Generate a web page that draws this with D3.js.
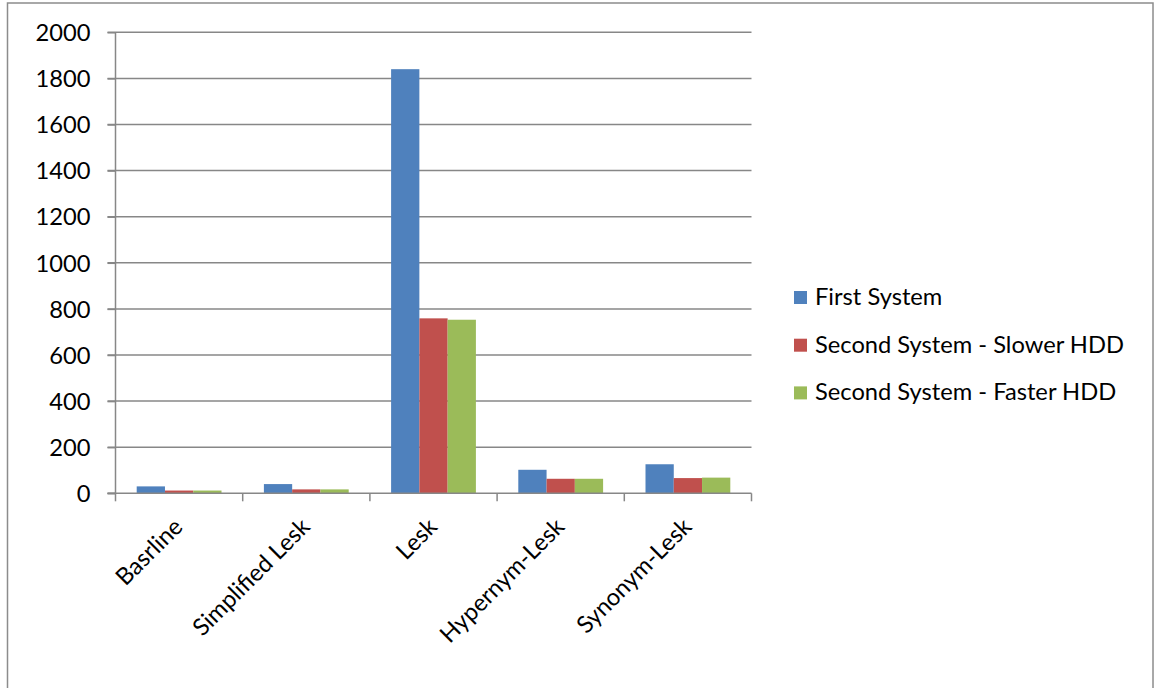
<!DOCTYPE html>
<html><head><meta charset="utf-8">
<script src="https://cdn.jsdelivr.net/npm/d3@7"></script>
<style>html,body{margin:0;padding:0;background:#fff;}svg{display:block;}</style>
</head><body>
<svg id="c" width="1154" height="688"></svg>
<script>
const categories = ["Basrline", "Simplified Lesk", "Lesk", "Hypernym-Lesk", "Synonym-Lesk"];
const seriesNames = ["First System", "Second System - Slower HDD", "Second System - Faster HDD"];
const firstSystem = [30, 40, 1840, 102, 126];
const slowerHDD = [12, 17, 759, 63, 66];
const fasterHDD = [12, 17, 753, 63, 68];
const yTicks = [0, 200, 400, 600, 800, 1000, 1200, 1400, 1600, 1800, 2000];
const colors = ["#4F81BD", "#C0504D", "#9BBB59"];

(function () {
const seriesValues = [firstSystem, slowerHDD, fasterHDD];
const FONT = "Lato, 'Open Sans', 'Liberation Sans', sans-serif";
const FS = 23.7;
const GRAY = "#878787";
const svg = d3.select("#c");

// outer border
svg.append("rect").attr("x", 7.5).attr("y", 3).attr("width", 1145.5).attr("height", 700)
  .attr("fill", "none").attr("stroke", "#8c8c8c").attr("stroke-width", 1.5);

const pLeft = 115.5, pRight = 751.5, pTop = 32.3, pBottom = 493.3;
const x = d3.scaleBand().domain(categories).range([pLeft, pRight]).paddingInner(0).paddingOuter(0);
const bw = x.bandwidth();
const x1 = d3.scaleBand().domain(seriesNames).range([bw / 6, bw * 5 / 6]).padding(0);
const y = d3.scaleLinear().domain([0, 2000]).range([pBottom, pTop]);

// gridlines
svg.append("g").selectAll("line").data(yTicks.filter(t => t > 0)).join("line")
  .attr("x1", pLeft - 8).attr("x2", pRight)
  .attr("y1", d => y(d)).attr("y2", d => y(d))
  .attr("stroke", GRAY).attr("stroke-width", 1.5);

// bars
const g = svg.append("g");
categories.forEach((c, ci) => {
  seriesNames.forEach((s, si) => {
    const v = seriesValues[si][ci];
    g.append("rect")
      .attr("x", x(c) + x1(s))
      .attr("width", x1.bandwidth())
      .attr("y", y(v))
      .attr("height", y(0) - y(v))
      .attr("fill", colors[si]);
  });
});

// y axis
const yAxis = d3.axisLeft(y).tickValues(yTicks).tickSize(8).tickPadding(17).tickFormat(d3.format("d"));
const ya = svg.append("g").attr("transform", `translate(${pLeft},0)`).call(yAxis);
ya.select(".domain").attr("stroke", GRAY).attr("stroke-width", 1.5).attr("d", `M-8,${pBottom}H0V${pTop}`);
ya.selectAll(".tick line").attr("stroke", GRAY).attr("stroke-width", 1.5);
ya.selectAll(".tick text").attr("font-family", FONT).attr("font-size", FS).attr("fill", "#000")
  .attr("dy", "0.35em");

// x axis baseline + ticks
const xa = svg.append("g");
xa.append("line").attr("x1", pLeft - 8).attr("x2", pRight).attr("y1", pBottom).attr("y2", pBottom)
  .attr("stroke", GRAY).attr("stroke-width", 1.5);
const bounds = categories.map(c => x(c)).concat([x(categories[categories.length - 1]) + bw]);
xa.selectAll("line.tk").data(bounds).join("line").attr("class", "tk")
  .attr("x1", d => d).attr("x2", d => d).attr("y1", pBottom).attr("y2", pBottom + 8)
  .attr("stroke", GRAY).attr("stroke-width", 1.5);
xa.selectAll("text").data(categories).join("text")
  .attr("transform", d => `translate(${x(d) + bw / 2 + 5},${pBottom + 35}) rotate(-45)`)
  .attr("text-anchor", "end")
  .attr("font-family", FONT).attr("font-size", FS).attr("fill", "#000")
  .text(d => d);

// legend
const lg = svg.append("g");
seriesNames.forEach((s, i) => {
  const ly = 305 + i * 47.7;
  lg.append("rect").attr("x", 794).attr("y", ly - 14).attr("width", 13).attr("height", 13).attr("fill", colors[i]);
  lg.append("text").attr("x", 815).attr("y", ly).attr("font-family", FONT).attr("font-size", FS)
    .attr("fill", "#000").text(s);
});
})();
</script>
</body></html>
